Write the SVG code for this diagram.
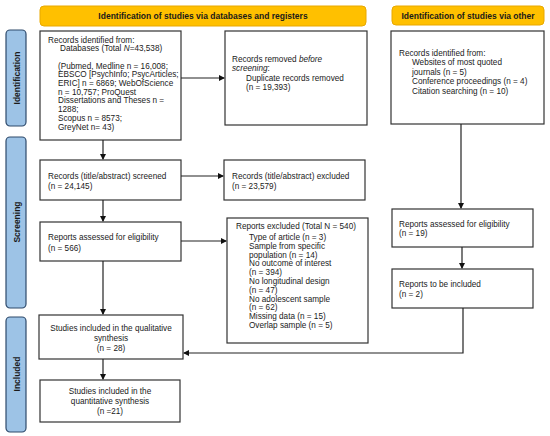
<svg xmlns="http://www.w3.org/2000/svg" width="550" height="436" viewBox="0 0 550 436">
<defs>
<marker id="ah" markerWidth="6" markerHeight="6" refX="5" refY="3" orient="auto" markerUnits="userSpaceOnUse">
<path d="M0,0 L6,3 L0,6 Z" fill="#111"/>
</marker>
<style>
.box{fill:#fff;stroke:#333;stroke-width:1.2}
.hdr{fill:#FFC000;stroke:#E8A800;stroke-width:1}
.side{fill:#9DC3E6;stroke:#2E4A6B;stroke-width:1.2}
.t{font-family:"Liberation Sans",Arial,sans-serif;font-size:8.2px;fill:#1a1a1a}
.b{font-family:"Liberation Sans",Arial,sans-serif;font-size:8.5px;font-weight:bold;fill:#1a1a1a}
.c{text-anchor:middle}
.con{fill:none;stroke:#222;stroke-width:1.2}
</style>
</defs>
<rect width="550" height="436" fill="#fff"/>

<g id="header-left"><rect class="hdr" x="40" y="6" width="326" height="20" rx="4"/><text class="b c" x="203" y="19">Identification of studies via databases and registers</text></g>
<g id="header-right"><rect class="hdr" x="392" y="6" width="152" height="19" rx="4"/><text class="b c" x="468" y="19">Identification of studies via other</text></g>

<g id="side-identification"><rect class="side" x="6" y="30" width="20" height="96" rx="4"/><text class="b c" transform="translate(19.5,78) rotate(-90)">Identification</text></g>
<g id="side-screening"><rect class="side" x="6" y="137" width="20" height="171" rx="4"/><text class="b c" transform="translate(19.5,222) rotate(-90)">Screening</text></g>
<g id="side-included"><rect class="side" x="6" y="317" width="20" height="115" rx="4"/><text class="b c" transform="translate(19.5,374) rotate(-90)">Included</text></g>

<g id="records-identified">
<rect class="box" x="40" y="31" width="141" height="109"/>
<text class="t" x="48" y="42.5">Records identified from:</text>
<text class="t" x="60" y="51.2">Databases (Total <tspan font-style="italic">N</tspan>=43,538)</text>
<text class="t" x="58" y="68.6">(Pubmed, Medline n = 16,008;</text>
<text class="t" x="58" y="77.3">EBSCO [PsychInfo; PsycArticles;</text>
<text class="t" x="58" y="86">ERIC] n = 6869; WebOfScience</text>
<text class="t" x="58" y="94.7">n = 10,757; ProQuest</text>
<text class="t" x="58" y="103.4">Dissertations and Theses n =</text>
<text class="t" x="58" y="112.1">1288;</text>
<text class="t" x="58" y="120.8">Scopus n = 8573;</text>
<text class="t" x="58" y="129.5">GreyNet n= 43)</text>
</g>

<g id="records-removed">
<rect class="box" x="225" y="31" width="142" height="94"/>
<text class="t" x="232" y="62">Records removed <tspan font-style="italic">before</tspan></text>
<text class="t" x="232" y="71"><tspan font-style="italic">screening</tspan>:</text>
<text class="t" x="246" y="80.5">Duplicate records removed</text>
<text class="t" x="246" y="89.5">(n = 19,393)</text>
</g>

<g id="records-other">
<rect class="box" x="391" y="31" width="153" height="93"/>
<text class="t" x="399" y="56">Records identified from:</text>
<text class="t" x="412" y="65">Websites of most quoted</text>
<text class="t" x="412" y="74.5">journals (n = 5)</text>
<text class="t" x="412" y="84">Conference proceedings (n = 4)</text>
<text class="t" x="412" y="93.5">Citation searching (n = 10)</text>
</g>

<g id="records-screened">
<rect class="box" x="40" y="160" width="141" height="40"/>
<text class="t" x="48" y="179">Records (title/abstract) screened</text>
<text class="t" x="48" y="189">(n = 24,145)</text>
</g>

<g id="records-excluded">
<rect class="box" x="224" y="160" width="141" height="40"/>
<text class="t" x="232" y="179">Records (title/abstract) excluded</text>
<text class="t" x="232" y="189">(n = 23,579)</text>
</g>

<g id="reports-assessed">
<rect class="box" x="40" y="222" width="141" height="39"/>
<text class="t" x="48" y="240">Reports assessed for eligibility</text>
<text class="t" x="48" y="251">(n = 566)</text>
</g>

<g id="reports-excluded">
<rect class="box" x="227" y="218" width="141" height="125"/>
<text class="t" x="236" y="229">Reports excluded (Total N = 540)</text>
<text class="t" x="249" y="240">Type of article (n = 3)</text>
<text class="t" x="249" y="248.8">Sample from specific</text>
<text class="t" x="249" y="257.6">population (n = 14)</text>
<text class="t" x="249" y="266.4">No outcome of interest</text>
<text class="t" x="249" y="275.2">(n = 394)</text>
<text class="t" x="249" y="284">No longitudinal design</text>
<text class="t" x="249" y="292.8">(n = 47)</text>
<text class="t" x="249" y="301.6">No adolescent sample</text>
<text class="t" x="249" y="310.4">(n = 62)</text>
<text class="t" x="249" y="319.2">Missing data (n = 15)</text>
<text class="t" x="249" y="328">Overlap sample (n = 5)</text>
</g>

<g id="reports-assessed-other">
<rect class="box" x="392" y="209" width="141" height="38"/>
<text class="t" x="399" y="227">Reports assessed for eligibility</text>
<text class="t" x="399" y="236">(n = 19)</text>
</g>

<g id="reports-included-other">
<rect class="box" x="392" y="269" width="141" height="39"/>
<text class="t" x="399" y="287">Reports to be included</text>
<text class="t" x="399" y="297">(n = 2)</text>
</g>

<g id="qualitative">
<rect class="box" x="39" y="315" width="144" height="44"/>
<text class="t c" x="111" y="331">Studies included in the qualitative</text>
<text class="t c" x="111" y="341">synthesis</text>
<text class="t c" x="111" y="351">(n = 28)</text>
</g>

<g id="quantitative">
<rect class="box" x="40" y="380" width="140" height="42"/>
<text class="t c" x="110" y="394">Studies included in the</text>
<text class="t c" x="110" y="404">quantitative synthesis</text>
<text class="t c" x="110" y="414">(n =21)</text>
</g>

<g id="connectors">
<path class="con" d="M181,78 H224" marker-end="url(#ah)"/>
<path class="con" d="M103,140 V159" marker-end="url(#ah)"/>
<path class="con" d="M181,176 H223" marker-end="url(#ah)"/>
<path class="con" d="M103,200 V221" marker-end="url(#ah)"/>
<path class="con" d="M181,241 H226" marker-end="url(#ah)"/>
<path class="con" d="M103,261 V314" marker-end="url(#ah)"/>
<path class="con" d="M103,359 V379" marker-end="url(#ah)"/>
<path class="con" d="M461,124 V208" marker-end="url(#ah)"/>
<path class="con" d="M462,247 V268" marker-end="url(#ah)"/>
<path class="con" d="M463,308 V353 H184" marker-end="url(#ah)"/>
</g>
</svg>
